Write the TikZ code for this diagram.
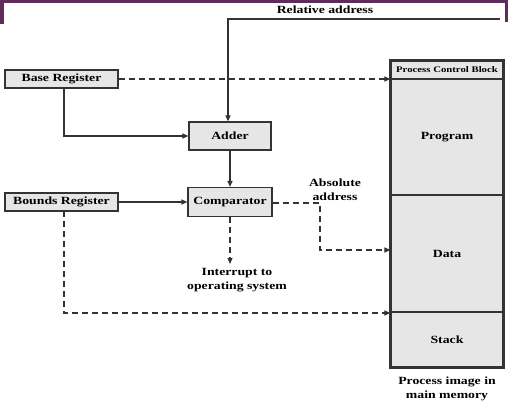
\documentclass[tikz,border=0pt]{standalone}
\usepackage{fontspec}
\setmainfont[FakeStretch=1.25]{Liberation Serif}
\usetikzlibrary{arrows.meta}
\definecolor{band}{HTML}{5E2D5E}
\definecolor{boxfill}{HTML}{E6E6E6}
\definecolor{edge}{HTML}{333333}
\begin{document}
\begin{tikzpicture}[x=1pt,y=-1pt,
  regbox/.style={draw=edge,line width=1.2pt,fill=boxfill,inner sep=0pt,font=\bfseries\fontsize{11}{12}\selectfont},
  conn/.style={draw=edge,line width=1.1pt,-{Triangle[length=6pt,width=5pt]}},
  dconn/.style={conn,dash pattern=on 6pt off 4pt},
  lbl/.style={font=\bfseries\fontsize{11}{14}\selectfont,align=center,inner sep=0pt}]
\useasboundingbox (0,0) rectangle (508,417);
\fill[white] (0,0) rectangle (508,417);
% band
\fill[band] (0,0) rectangle (508,3);
\fill[band] (0,0) rectangle (4,24);
\fill[band] (505,0) rectangle (508,22);
% registers
\node[regbox,minimum width=113pt,minimum height=18pt] (base) at (61.5,79) {Base Register};
\node[regbox,minimum width=113pt,minimum height=18pt] (bounds) at (61.5,202) {Bounds Register};
\node[regbox,minimum width=82pt,minimum height=28pt] (adder) at (230,136) {Adder};
\node[regbox,minimum width=84pt,minimum height=29pt] (comp) at (230,202) {Comparator};
% memory
\node[regbox,minimum width=112pt,minimum height=18pt,font=\bfseries\fontsize{8.6}{9}\selectfont] (pcb) at (447,70) {Process Control Block};
\node[regbox,minimum width=112pt,minimum height=116pt] (prog) at (447,137) {Program};
\node[regbox,minimum width=112pt,minimum height=117pt] (data) at (447,253.5) {Data};
\node[regbox,minimum width=112pt,minimum height=55pt] (stack) at (447,339.5) {Stack};
\draw[edge,line width=2pt] (pcb.north west) rectangle (stack.south east);
% labels
\node[lbl] (rel) at (325,10) {Relative address};
\node[lbl] (abs) at (335,190) {Absolute\\address};
\node[lbl] (intr) at (237,280) {Interrupt to\\operating system};
\node[lbl] (img) at (447,389) {Process image in\\main memory};
% connectors
\coordinate (relend) at (500,19);
\coordinate (relcorner) at (228,19);
\draw[conn] (relend) -- (relcorner) -- (relcorner |- adder.north);
\coordinate (basedrop) at (64,88);
\draw[conn] (basedrop) |- (adder.west);
\draw[dconn] (base.east) -- (pcb.west |- base.east);
\draw[conn] (adder.south) -- (comp.north);
\draw[conn] (bounds.east) -- (comp.west);
\coordinate (absturn) at (320,203);
\coordinate (absdown) at (320,250);
\draw[dconn] (comp.east |- absturn) -- (absturn) -- (absdown) -- (data.west |- absdown);
\coordinate (intrtip) at (230,264);
\draw[dconn] (comp.south) -- (intrtip);
\coordinate (bdrop) at (64,211);
\coordinate (bturn) at (64,313);
\draw[dconn] (bdrop) -- (bturn) -- (stack.west |- bturn);
\end{tikzpicture}
\end{document}
